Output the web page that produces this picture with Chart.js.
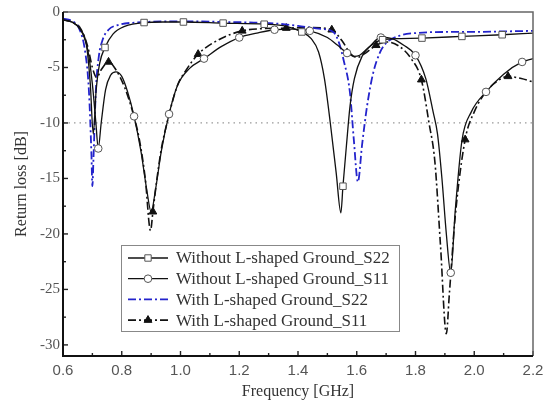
<!DOCTYPE html>
<html lang="en">
<head>
<meta charset="UTF-8">
<title>Return loss</title>
<script src="https://cdn.jsdelivr.net/npm/chart.js"></script>
<style>
  html, body { margin: 0; padding: 0; background: #fff; }
</style>
</head>
<body>
<canvas id="chart" width="551" height="405"></canvas>
<script>
// legend labels
const seriesNames = [
  'Without L-shaped Ground_S22',
  'Without L-shaped Ground_S11',
  'With L-shaped Ground_S22',
  'With L-shaped Ground_S11'
];

// Without L-shaped Ground_S22 (squares)
const woS22Freq = [0.60, 0.63, 0.66, 0.68, 0.693, 0.703, 0.713, 0.725, 0.743, 0.77, 0.81, 0.876, 0.94, 1.01, 1.145, 1.285, 1.36, 1.413, 1.445, 1.47, 1.49, 1.51, 1.53, 1.546, 1.553, 1.565, 1.577, 1.592, 1.618, 1.655, 1.688, 1.75, 1.822, 1.958, 2.095, 2.2];
const woS22Loss = [-0.7, -0.9, -1.6, -3.0, -6.5, -11, -7, -4.6, -3.2, -2.0, -1.3, -0.95, -0.9, -0.9, -1.0, -1.1, -1.3, -1.8, -2.4, -3.6, -6, -10, -14.5, -18.1, -15.7, -12, -8.5, -6, -4, -2.9, -2.5, -2.4, -2.35, -2.2, -2.05, -1.9];
const woS22Marks = [0.743, 0.876, 1.01, 1.145, 1.285, 1.413, 1.553, 1.688, 1.822, 1.958, 2.095];

// Without L-shaped Ground_S11 (circles)
const woS11Freq = [0.60, 0.63, 0.66, 0.685, 0.70, 0.712, 0.72, 0.73, 0.745, 0.762, 0.78, 0.80, 0.82, 0.842, 0.865, 0.885, 0.90, 0.915, 0.935, 0.961, 0.99, 1.03, 1.08, 1.14, 1.20, 1.26, 1.32, 1.38, 1.44, 1.50, 1.535, 1.567, 1.59, 1.61, 1.64, 1.682, 1.72, 1.76, 1.80, 1.835, 1.86, 1.875, 1.89, 1.905, 1.92, 1.935, 1.958, 1.99, 2.04, 2.10, 2.163, 2.2];
const woS11Loss = [-0.7, -0.9, -1.6, -3.5, -6.5, -10, -12.3, -10, -7, -5.7, -5.4, -5.8, -7.2, -9.4, -12.5, -16, -18.0, -16, -12.5, -9.2, -6.6, -5.1, -4.2, -3.1, -2.3, -1.9, -1.6, -1.55, -1.7, -2.3, -3.0, -3.7, -4.0, -3.9, -3.2, -2.3, -2.4, -3.0, -3.9, -6, -9, -11, -15, -20, -23.5, -18, -11.6, -9, -7.2, -5.6, -4.5, -4.2];
const woS11Marks = [0.72, 0.842, 0.961, 1.08, 1.20, 1.32, 1.44, 1.567, 1.682, 1.80, 1.92, 2.04, 2.163];

// With L-shaped Ground_S22 (blue dash-dot)
const wS22Freq = [0.60, 0.63, 0.655, 0.675, 0.688, 0.697, 0.70, 0.704, 0.712, 0.722, 0.735, 0.755, 0.79, 0.85, 0.95, 1.05, 1.15, 1.25, 1.33, 1.40, 1.47, 1.52, 1.54, 1.555, 1.577, 1.59, 1.604, 1.618, 1.635, 1.655, 1.68, 1.70, 1.75, 1.80, 1.90, 2.00, 2.10, 2.20];
const wS22Loss = [-0.6, -0.8, -1.5, -3.5, -7, -13, -15.7, -13, -7, -4, -2.5, -1.6, -1.15, -0.95, -0.85, -0.85, -0.9, -0.95, -1.05, -1.25, -1.5, -1.8, -2.8, -4.3, -7.3, -11.5, -15.3, -12, -8.5, -5.6, -3.6, -2.8, -2.1, -1.9, -1.8, -1.8, -1.75, -1.7];

// With L-shaped Ground_S11 (black dash-dot, triangles)
const wS11Freq = [0.60, 0.63, 0.66, 0.685, 0.70, 0.715, 0.73, 0.755, 0.78, 0.81, 0.835, 0.86, 0.88, 0.898, 0.906, 0.92, 0.935, 0.954, 0.99, 1.02, 1.06, 1.13, 1.21, 1.28, 1.36, 1.44, 1.515, 1.55, 1.58, 1.60, 1.63, 1.666, 1.705, 1.745, 1.785, 1.82, 1.846, 1.866, 1.885, 1.905, 1.915, 1.935, 1.969, 2.0, 2.04, 2.08, 2.115, 2.16, 2.2];
const wS11Loss = [-0.7, -0.9, -1.5, -3.2, -5.0, -5.9, -5.2, -4.5, -5.2, -6.8, -8.8, -11.5, -15, -19.7, -18, -15, -12.3, -10, -6.6, -5.2, -3.8, -2.5, -1.7, -1.5, -1.45, -1.4, -1.6, -2.6, -3.8, -4.1, -3.7, -3.0, -2.7, -3.1, -4.2, -6.1, -10, -13.5, -21, -29.0, -25.5, -18.5, -11.5, -9, -7.2, -6.2, -5.8, -6.0, -6.3];
const wS11Marks = [0.755, 0.906, 1.06, 1.21, 1.36, 1.515, 1.666, 1.82, 1.969, 2.115];

// -10 dB reference
const refFreq = [0.6, 2.2];
const refLoss = [-10, -10];

const toXY = (xs, ys) => xs.map((x, i) => ({ x: x, y: ys[i] }));
const markAt = (marks, r) => ctx => (ctx.raw && marks.includes(ctx.raw.x)) ? r : 0;

const serif = 'Liberation Serif';
const blue = '#2323cc';
const dashDot = [8, 3, 2, 3];

const datasets = [
  {
    label: seriesNames[0], data: toXY(woS22Freq, woS22Loss),
    borderColor: '#111', borderWidth: 1.3,
    pointStyle: 'rect', pointRadius: markAt(woS22Marks, 4.6),
    pointBackgroundColor: '#fff', pointBorderColor: '#555', pointBorderWidth: 1,
    mark: 'square'
  },
  {
    label: seriesNames[1], data: toXY(woS11Freq, woS11Loss),
    borderColor: '#111', borderWidth: 1.3,
    pointStyle: 'circle', pointRadius: markAt(woS11Marks, 3.8),
    pointBackgroundColor: '#fff', pointBorderColor: '#555', pointBorderWidth: 1,
    mark: 'circle'
  },
  {
    label: seriesNames[2], data: toXY(wS22Freq, wS22Loss),
    borderColor: blue, borderWidth: 1.8, borderDash: dashDot,
    pointRadius: 0, mark: null
  },
  {
    label: seriesNames[3], data: toXY(wS11Freq, wS11Loss),
    borderColor: '#111', borderWidth: 1.6, borderDash: dashDot,
    pointStyle: 'triangle', pointRadius: markAt(wS11Marks, 4.5),
    pointBackgroundColor: '#111', pointBorderColor: '#111', pointBorderWidth: 1,
    mark: 'triangle'
  },
  {
    label: 'ref', data: toXY(refFreq, refLoss),
    borderColor: '#999', borderWidth: 1.3, borderDash: [1.5, 4],
    pointRadius: 0, mark: null, isRef: true
  }
];

function drawMark(ctx, type, x, y) {
  ctx.save();
  ctx.setLineDash([]);
  ctx.lineWidth = 1;
  ctx.beginPath();
  if (type === 'square') {
    ctx.rect(x - 3.2, y - 3.2, 6.4, 6.4);
    ctx.fillStyle = '#fff'; ctx.strokeStyle = '#555';
  } else if (type === 'circle') {
    ctx.arc(x, y, 3.8, 0, Math.PI * 2);
    ctx.fillStyle = '#fff'; ctx.strokeStyle = '#555';
  } else {
    ctx.moveTo(x, y - 4.5);
    ctx.lineTo(x + 3.9, y + 2.25);
    ctx.lineTo(x - 3.9, y + 2.25);
    ctx.closePath();
    ctx.fillStyle = '#111'; ctx.strokeStyle = '#111';
  }
  ctx.fill();
  ctx.stroke();
  ctx.restore();
}

const framePlugin = {
  id: 'frame',
  afterDatasetsDraw(chart) {
    const { ctx, chartArea: a, scales } = chart;
    const xs = scales.x, ys = scales.y;
    ctx.save();
    ctx.strokeStyle = '#222';
    ctx.lineWidth = 1.4;
    // inward ticks on bottom axis
    xs.ticks.forEach(t => {
      const px = xs.getPixelForValue(t.value);
      ctx.beginPath(); ctx.moveTo(px, a.bottom); ctx.lineTo(px, a.bottom - 5); ctx.stroke();
      const m = t.value + 0.1;
      if (m < xs.max) {
        const pm = xs.getPixelForValue(m);
        ctx.beginPath(); ctx.moveTo(pm, a.bottom); ctx.lineTo(pm, a.bottom - 3); ctx.stroke();
      }
    });
    // inward ticks on left axis
    ys.ticks.forEach(t => {
      const py = ys.getPixelForValue(t.value);
      ctx.beginPath(); ctx.moveTo(a.left, py); ctx.lineTo(a.left + 5, py); ctx.stroke();
      const m = t.value - 2.5;
      if (m > ys.min) {
        const pm = ys.getPixelForValue(m);
        ctx.beginPath(); ctx.moveTo(a.left, pm); ctx.lineTo(a.left + 3, pm); ctx.stroke();
      }
    });
    // frame
    ctx.strokeStyle = '#666';
    ctx.lineWidth = 1.5;
    ctx.beginPath();
    ctx.moveTo(a.left, a.top); ctx.lineTo(a.right, a.top); ctx.lineTo(a.right, a.bottom);
    ctx.stroke();
    ctx.strokeStyle = '#111';
    ctx.lineWidth = 2;
    ctx.beginPath();
    ctx.moveTo(a.left, a.top); ctx.lineTo(a.left, a.bottom); ctx.lineTo(a.right, a.bottom);
    ctx.stroke();
    ctx.restore();
  },
  afterDraw(chart) {
    const ctx = chart.ctx;
    const box = { x: 121, y: 245, w: 278, h: 86 };
    ctx.save();
    ctx.fillStyle = '#fff';
    ctx.fillRect(box.x, box.y, box.w, box.h);
    ctx.strokeStyle = '#888';
    ctx.lineWidth = 1;
    ctx.strokeRect(box.x + 0.5, box.y + 0.5, box.w, box.h);
    ctx.font = '17px "' + serif + '"';
    ctx.textBaseline = 'middle';
    chart.data.datasets.filter(d => !d.isRef).forEach((d, i) => {
      const cy = box.y + 13 + i * 20.7;
      ctx.save();
      ctx.strokeStyle = d.borderColor;
      ctx.lineWidth = d.borderWidth;
      ctx.setLineDash(d.borderDash || []);
      ctx.beginPath(); ctx.moveTo(128, cy); ctx.lineTo(168, cy); ctx.stroke();
      ctx.restore();
      if (d.mark) drawMark(ctx, d.mark, 148, cy);
      ctx.fillStyle = '#333';
      ctx.fillText(d.label, 176, cy + 1);
    });
    ctx.restore();
  }
};

new Chart(document.getElementById('chart'), {
  type: 'line',
  data: { datasets: datasets },
  options: {
    responsive: false,
    animation: false,
    layout: { padding: { left: 0, right: 18, top: 10, bottom: 0 } },
    elements: { line: { cubicInterpolationMode: 'monotone' } },
    plugins: { legend: { display: false }, tooltip: { enabled: false } },
    scales: {
      x: {
        type: 'linear', min: 0.6, max: 2.2,
        grid: { display: false, drawTicks: false },
        border: { display: false },
        ticks: {
          stepSize: 0.2, padding: 6, color: '#555',
          font: { family: 'Liberation Sans', size: 15 },
          callback: v => v.toFixed(1)
        },
        title: {
          display: true, text: 'Frequency [GHz]', color: '#333',
          font: { family: serif, size: 16 }, padding: { top: 0, bottom: 4 }
        },
        afterFit: s => { s.height = 49; }
      },
      y: {
        type: 'linear', min: -31, max: 0,
        grid: { display: false, drawTicks: false },
        border: { display: false },
        ticks: {
          stepSize: 5, includeBounds: false, padding: 3, color: '#555',
          font: { family: serif, size: 15 },
          callback: v => String(v)
        },
        title: {
          display: true, text: 'Return loss [dB]', color: '#333',
          font: { family: serif, size: 16 }, padding: { top: 12, bottom: 0 }
        },
        afterFit: s => { s.width = 63; }
      }
    }
  },
  plugins: [framePlugin]
});
</script>
</body>
</html>
